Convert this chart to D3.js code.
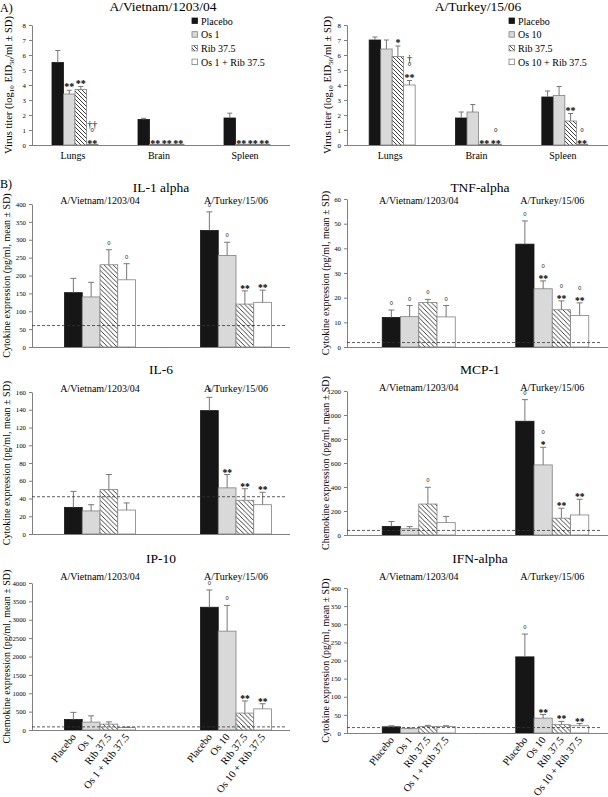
<!DOCTYPE html>
<html><head><meta charset="utf-8">
<script src="https://cdn.jsdelivr.net/npm/d3@7"></script>
<style>
body{margin:0;background:#fff}
text{font-family:"Liberation Serif","Times New Roman",serif;fill:#000}
</style>
</head><body>
<svg id="c" width="608" height="797"></svg>
<script>
// ---------------- DATA ----------------
const organs = ["Lungs","Brain","Spleen"];
const titerTicks = [0,1,2,3,4,5,6,7,8];
const vnSeries = ["Placebo","Os 1","Rib 37.5","Os 1 + Rib 37.5"];
const tkSeries = ["Placebo","Os 10","Rib 37.5","Os 10 + Rib 37.5"];
const vnTitle = "A/Vietnam/1203/04";
const tkTitle = "A/Turkey/15/06";
const titerLabel = ["Virus titer (log","10"," EID","50","/ml ± SD)"];

const vnTiter   = [[5.5,3.4,3.7,0.05],[1.7,0.05,0.05,0.05],[1.8,0.05,0.05,0.05]];
const vnTiterSD = [[0.8,0.25,0.2,0],[0.08,0,0,0],[0.32,0,0,0]];
const vnTiterSig= [[[],["**"],["**"],["**","°","††"]],[[],["**"],["**"],["**"]],[[],["**"],["**"],["**"]]];

const tkTiter   = [[7.0,6.4,5.9,4.0],[1.8,2.2,0.05,0.05],[3.2,3.3,1.6,0.05]];
const tkTiterSD = [[0.2,0.6,0.7,0.3],[0.4,0.5,0,0],[0.4,0.6,0.5,0]];
const tkTiterSig= [[[],[],["*"],["**","°","†"]],[[],[],["**"],["**","°"]],[[],[],["**"],["**","°"]]];

const strains = ["A/Vietnam/1203/04","A/Turkey/15/06"];
const cytoNames = ["IL-1 alpha","TNF-alpha","IL-6","MCP-1","IP-10","IFN-alpha"];
const cytoYLabels = ["Cytokine expression (pg/ml, mean ± SD)","Cytokine expression (pg/ml, mean ± SD)",
  "Cytokine expression (pg/ml, mean ± SD)","Chemokine  expression (pg/ml, mean ± SD)",
  "Chemokine expression (pg/ml, mean ± SD)","Cytokine expression (pg/ml, mean ± SD)"];

const il1Mean = [[152,140,230,188],[326,256,120,125]];
const il1SD   = [[40,41,42,45],[52,37,37,34]];
const il1Sig  = [[[],[],["°"],["°"]],[["°"],["°"],["**"],["**"]]];
const il1Base = 60;
const il1Ticks = [0,50,100,150,200,250,300,350,400];

const tnfMean = [[12,12.3,18,12.2],[41.7,23.6,15.1,12.8]];
const tnfSD   = [[3,4.5,1.3,4.6],[9.4,3.2,3.6,5.1]];
const tnfSig  = [[["°"],["°"],["°"],["°"]],[["°"],["**","°"],["**","°"],["**","°"]]];
const tnfBase = 1.8;
const tnfTicks = [0,10,20,30,40,50,60];

const il6Mean = [[30,26,50,27],[139,52,38,33]];
const il6SD   = [[18,7,17,8],[15,15,13,14]];
const il6Sig  = [[[],[],[],[]],[["°"],["**"],["**"],["**"]]];
const il6Base = 42;
const il6Ticks = [0,20,40,60,80,100,120,140,160];

const mcpMean = [[72,52,258,103],[948,584,140,167]];
const mcpSD   = [[40,18,140,52],[180,147,83,131]];
const mcpSig  = [[[],[],["°"],[]],[["°"],["*","°"],["**"],["**"]]];
const mcpBase = 38;
const mcpTicks = [0,200,400,600,800,1000,1200];

const ipMean = [[285,215,160,65],[3340,2690,460,575]];
const ipSD   = [[195,170,60,12],[470,700,330,140]];
const ipSig  = [[[],[],[],[]],[["°"],["°"],["**"],["**"]]];
const ipBase = 85;
const ipTicks = [0,500,1000,1500,2000,2500,3000,3500,4000];

const ifnMean = [[17,12,18,18],[210,41,23,20]];
const ifnSD   = [[3,1.5,3,2],[63,10,9,6]];
const ifnSig  = [[[],[],[],[]],[["°"],["**"],["**"],["**"]]];
const ifnBase = 15;
const ifnTicks = [0,50,100,150,200,250,300,350,400];

// ---------------- DRAW ----------------
const svg = d3.select("#c");
const defs = svg.append("defs");
function hatch(id, s){
  const p = defs.append("pattern").attr("id",id).attr("patternUnits","userSpaceOnUse")
    .attr("width",s).attr("height",s);
  p.append("rect").attr("width",s).attr("height",s).attr("fill","#fff");
  p.append("path").attr("d",`M-1,-1L${s+1},${s+1}M-1,${s-1}L1,${s+1}M${s-1},-1L${s+1},1`)
    .attr("stroke","#111").attr("stroke-width",0.8);
}
hatch("h4",4); hatch("h5",4.6);

const fills = ["#161616","#d9d9d9",null,"#ffffff"];
const strokes = ["#161616","#808080","#808080","#808080"];
const AX = "#808080";

function panel(o){
  const g = svg.append("g");
  const y = d3.scaleLinear().domain([0,o.ymax]).range([o.y0,o.yTop]);
  const gx = d3.scaleBand().domain(o.groups).range(o.gr).padding(0);
  const bx = d3.scaleBand().domain(d3.range(4)).range([0,o.gw]);
  const ax = g.append("g").attr("transform",`translate(${o.x0},0)`)
    .call(d3.axisLeft(y).tickValues(o.ticks).tickFormat(d3.format("d"))
      .tickSize(3).tickPadding(3).tickSizeOuter(0));
  ax.select(".domain").attr("stroke",AX);
  ax.selectAll(".tick line").attr("stroke",AX);
  ax.selectAll(".tick text").attr("font-size",6.8).attr("font-family","Liberation Serif").attr("fill","#000");
  o.groups.forEach((grp,i)=>{
    const gx0 = gx(grp) + (gx.bandwidth()-o.gw)/2 + (o.shift||0);
    o.mean[i].forEach((v,j)=>{
      const x = gx0 + bx(j), w = bx.bandwidth(), cx = x + w/2;
      g.append("rect").attr("x",x).attr("y",y(v)).attr("width",w).attr("height",o.y0-y(v))
        .attr("fill", j===2 ? `url(#${o.hatch})` : fills[j])
        .attr("stroke",strokes[j]).attr("stroke-width",0.8);
      const sd = o.sd[i][j];
      let top = y(v);
      if(sd>0){
        const ye = y(v+sd);
        g.append("line").attr("x1",cx).attr("x2",cx).attr("y1",y(v)).attr("y2",ye).attr("stroke","#777").attr("stroke-width",1);
        g.append("line").attr("x1",cx-o.cap).attr("x2",cx+o.cap).attr("y1",ye).attr("y2",ye).attr("stroke","#777").attr("stroke-width",1);
        top = ye - o.gap;
      } else top = y(v) - 0.5;
      o.sig[i][j].forEach((s,k)=>{
        g.append("text").attr("x",cx).attr("y",top + (s.startsWith("*")?3:1) - k*o.step)
          .attr("text-anchor","middle").attr("font-size",o.sigSize)
          .attr("font-weight", s.startsWith("*")?"bold":"normal").text(s);
      });
      if(o.rotLabels){
        g.append("text").attr("transform",`translate(${cx+3},${o.y0+7}) rotate(-52)`)
          .attr("text-anchor","end").attr("font-size",10.5).text(o.rotLabels[i][j]);
      }
    });
    if(o.catLabels){
      g.append("text").attr("x",gx0+o.gw/2-2).attr("y",o.y0+14).attr("text-anchor","middle")
        .attr("font-size",10).text(grp);
    }
    if(o.subTitles){
      g.append("text").attr("x",gx0+o.gw/2).attr("y",o.subY).attr("text-anchor","middle")
        .attr("font-size",10).text(grp);
    }
  });
  g.append("line").attr("x1",o.x0).attr("x2",o.x1).attr("y1",o.y0+0.5).attr("y2",o.y0+0.5).attr("stroke",AX);
  if(o.base!==undefined){
    g.append("line").attr("x1",o.x0).attr("x2",o.dashEnd).attr("y1",y(o.base)).attr("y2",y(o.base))
      .attr("stroke","#333").attr("stroke-width",0.8).attr("stroke-dasharray","3,2");
  }
  // y label
  const yl = g.append("text").attr("transform",`translate(${o.labX},${(o.y0+o.yTop)/2}) rotate(-90)`)
    .attr("text-anchor","middle").attr("font-size",o.ylSize);
  if(Array.isArray(o.ylabel)){
    yl.append("tspan").text(o.ylabel[0]);
    yl.append("tspan").attr("dy",2).attr("font-size",7).text(o.ylabel[1]);
    yl.append("tspan").attr("dy",-2).text(o.ylabel[2]);
    yl.append("tspan").attr("dy",2).attr("font-size",7).text(o.ylabel[3]);
    yl.append("tspan").attr("dy",-2).text(o.ylabel[4]);
  } else yl.text(o.ylabel);
  if(o.title){
    g.append("text").attr("x",o.titleX).attr("y",o.titleY).attr("text-anchor","middle")
      .attr("font-size",o.titleSize).text(o.title);
  }
  if(o.legend){
    o.legend.forEach((name,j)=>{
      const ly = 21 + j*13.7;
      g.append("rect").attr("x",o.legX).attr("y",ly-3).attr("width",5.5).attr("height",5.5)
        .attr("fill", j===2 ? "url(#h4)" : fills[j]).attr("stroke",strokes[j]).attr("stroke-width",0.8);
      g.append("text").attr("x",o.legX+9).attr("y",ly+3.5).attr("font-size",10).text(name);
    });
  }
}

// panel A
svg.append("text").attr("x",0).attr("y",12).attr("font-size",12).text("A)");
panel({groups:organs, mean:vnTiter, sd:vnTiterSD, sig:vnTiterSig, ymax:8, ticks:titerTicks,
  x0:32, x1:290, gr:[32,290], gw:46, shift:0, y0:145, yTop:25, hatch:"h4", cap:2.5, gap:3, step:8.5, sigSize:10,
  catLabels:true, labX:12, ylSize:10.5, ylabel:titerLabel, title:vnTitle, titleX:163, titleY:11, titleSize:13.5,
  legend:vnSeries, legX:192});
panel({groups:organs, mean:tkTiter, sd:tkTiterSD, sig:tkTiterSig, ymax:8, ticks:titerTicks,
  x0:347, x1:608, gr:[349,608], gw:46, shift:0, y0:145, yTop:25, hatch:"h4", cap:2.5, gap:3, step:8.5, sigSize:10,
  catLabels:true, labX:331, ylSize:10.5, ylabel:titerLabel, title:tkTitle, titleX:478, titleY:11, titleSize:13.5,
  legend:tkSeries, legX:509});

// panel B
svg.append("text").attr("x",0).attr("y",188).attr("font-size",12).text("B)");
const cytoData = [
  [il1Mean,il1SD,il1Sig,il1Base,il1Ticks],
  [tnfMean,tnfSD,tnfSig,tnfBase,tnfTicks],
  [il6Mean,il6SD,il6Sig,il6Base,il6Ticks],
  [mcpMean,mcpSD,mcpSig,mcpBase,mcpTicks],
  [ipMean,ipSD,ipSig,ipBase,ipTicks],
  [ifnMean,ifnSD,ifnSig,ifnBase,ifnTicks]
];
const lay = [
  {left:true,  y0:347, yTop:204, titleY:192, subY:204},
  {left:false, y0:347, yTop:199, titleY:192, subY:204},
  {left:true,  y0:534, yTop:392, titleY:374, subY:392},
  {left:false, y0:535, yTop:391, titleY:374, subY:391},
  {left:true,  y0:730, yTop:583, titleY:563, subY:580},
  {left:false, y0:733, yTop:588, titleY:563, subY:580}
];
cytoData.forEach((d,k)=>{
  const L = lay[k];
  const base = {groups:strains, mean:d[0], sd:d[1], sig:d[2], base:d[3], ticks:d[4], ymax:d3.max(d[4]),
    y0:L.y0, yTop:L.yTop, hatch:"h5", cap:3, gap:2, step:8, sigSize:9.5, subTitles:true, subY:L.subY,
    title:cytoNames[k], titleY:L.titleY, titleSize:13.5, ylabel:cytoYLabels[k], ylSize:10};
  if(L.left) Object.assign(base,{x0:32,x1:290,gr:[32,304],gw:71,dashEnd:285,labX:10,titleX:161});
  else Object.assign(base,{x0:347,x1:608,gr:[352,619],gw:73,dashEnd:602,labX:329,titleX:480});
  if(k>=4) base.rotLabels = [vnSeries, tkSeries];
  panel(base);
});
</script>
</body></html>
